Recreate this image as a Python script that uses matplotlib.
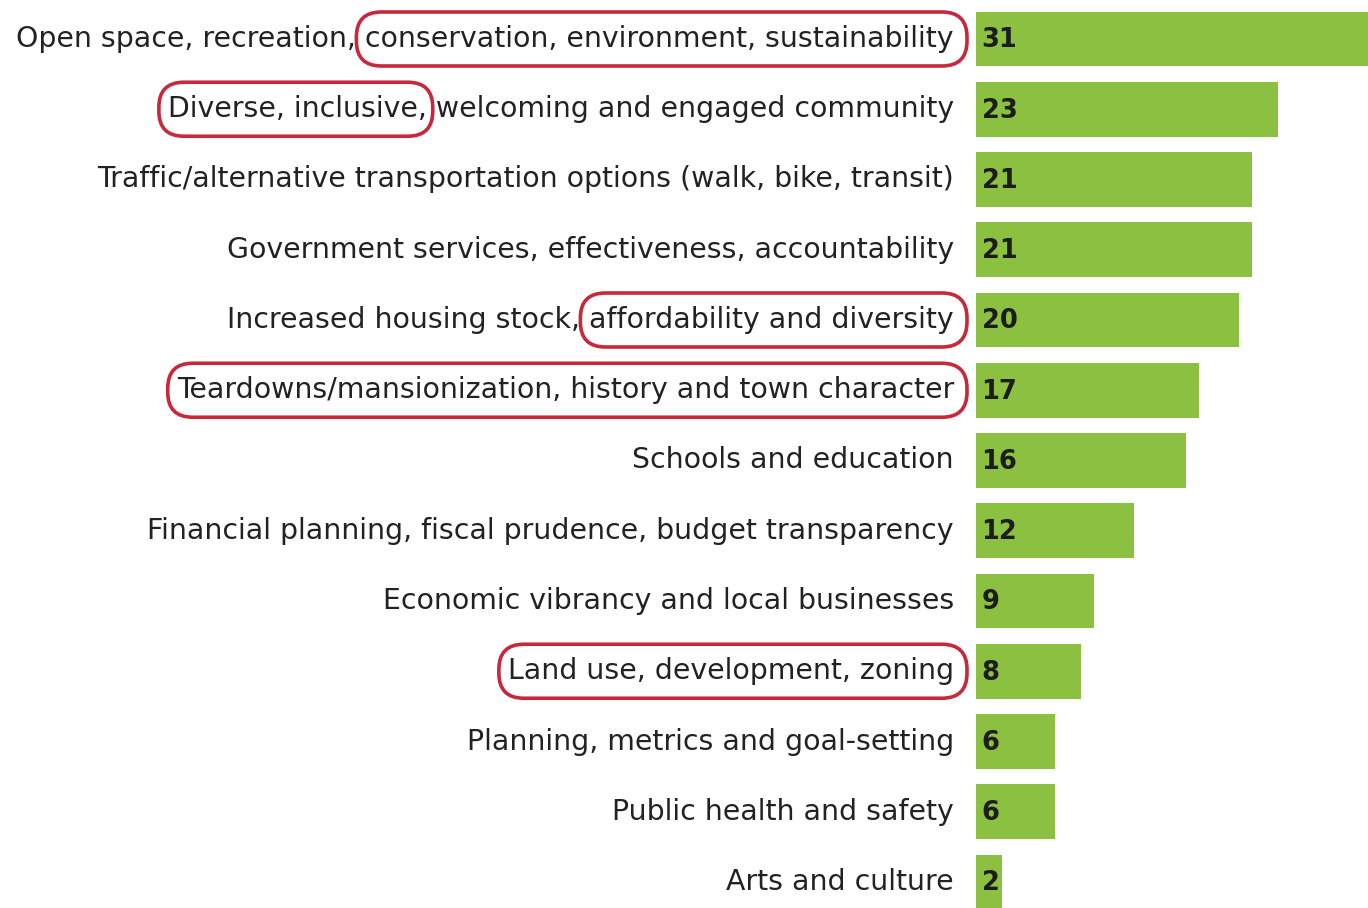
import matplotlib.pyplot as plt
from matplotlib.patches import FancyBboxPatch
from matplotlib.transforms import blended_transform_factory, IdentityTransform

labels = [
    "Open space, recreation, conservation, environment, sustainability",
    "Diverse, inclusive, welcoming and engaged community",
    "Traffic/alternative transportation options (walk, bike, transit)",
    "Government services, effectiveness, accountability",
    "Increased housing stock, affordability and diversity",
    "Teardowns/mansionization, history and town character",
    "Schools and education",
    "Financial planning, fiscal prudence, budget transparency",
    "Economic vibrancy and local businesses",
    "Land use, development, zoning",
    "Planning, metrics and goal-setting",
    "Public health and safety",
    "Arts and culture",
]
values = [31, 23, 21, 21, 20, 17, 16, 12, 9, 8, 6, 6, 2]

# circled part of some labels: (row, substring)
highlights = [
    (0, "conservation, environment, sustainability"),
    (1, "Diverse, inclusive,"),
    (4, "affordability and diversity"),
    (5, "Teardowns/mansionization, history and town character"),
    (9, "Land use, development, zoning"),
]

W, H = 1368, 908
fig = plt.figure(figsize=(W / 100, H / 100), dpi=100)
ax = fig.add_axes([976 / W, 0, 1 - 976 / W, 1])

ypos = list(range(len(values)))
ax.barh(ypos, values, height=0.78, color="#8bc040")
ax.set_xlim(0, 29.85)
ax.set_ylim(12.37, -0.555)
ax.axis("off")

for y, v in zip(ypos, values):
    ax.annotate(str(v), (0, y), xytext=(4, -1), textcoords="offset points",
                ha="left", va="center", fontsize=18.5, fontweight="bold",
                color="#1c1c1c")

tr = blended_transform_factory(fig.transFigure, ax.transData)
label_x = 954 / W
texts = []
for y, lab in zip(ypos, labels):
    t = fig.text(label_x, y, lab, transform=tr, ha="right", va="center",
                 fontsize=20.4, color="#222222")
    texts.append(t)

fig.canvas.draw()
r = fig.canvas.get_renderer()


def width_of(s, ref):
    tmp = fig.text(0, 0, s, fontsize=ref.get_fontsize(), family=ref.get_family())
    w = tmp.get_window_extent(renderer=r).width
    tmp.remove()
    return w


for row, sub in highlights:
    t = texts[row]
    bb = t.get_window_extent(renderer=r)
    full = labels[row]
    i = full.index(sub)
    x0 = bb.x0 + (width_of(full[:i], t) if i > 0 else 0)
    x1 = x0 + width_of(sub, t)
    yc = ax.transData.transform((0, row))[1]
    left = x0 - 9
    right = x1 + 13 if i + len(sub) == len(full) else x1 + 6
    box = FancyBboxPatch((left, yc - 27), right - left, 54,
                         boxstyle="round,pad=0,rounding_size=25",
                         fill=False, edgecolor="#c8283c", linewidth=2.6,
                         transform=IdentityTransform())
    fig.patches.append(box)

fig.savefig("out.png", dpi=100)
